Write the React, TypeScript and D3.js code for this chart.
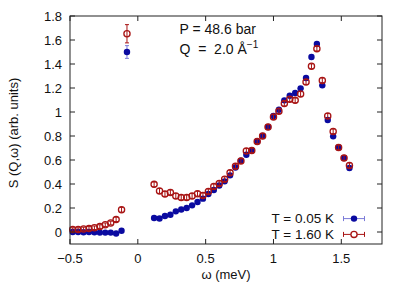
import * as d3 from 'd3';

// energy transfer (meV)
const omega = [
  -0.48, -0.44, -0.40, -0.36, -0.32, -0.28, -0.24, -0.20, -0.16, -0.12, -0.08,
  0.12, 0.16, 0.20, 0.24, 0.28, 0.32, 0.36, 0.40, 0.44, 0.48, 0.52, 0.56, 0.60, 0.64,
  0.68, 0.72, 0.76, 0.80, 0.84, 0.88, 0.92, 0.96, 1.00, 1.04, 1.08, 1.12, 1.16, 1.20,
  1.24, 1.28, 1.32, 1.36, 1.40, 1.44, 1.48, 1.52, 1.56,
];
// T = 0.05 K
const sLow = [
  0, 0, -0.002, 0, -0.003, -0.005, -0.005, -0.005, -0.012, 0.01, 1.50,
  0.117, 0.113, 0.133, 0.144, 0.172, 0.188, 0.200, 0.222, 0.250, 0.278, 0.317, 0.350, 0.388, 0.422,
  0.472, 0.538, 0.594, 0.644, 0.680, 0.755, 0.80, 0.875, 0.967, 1.019, 1.097, 1.136, 1.158, 1.197,
  1.283, 1.458, 1.567, 1.222, 0.933, 0.797, 0.705, 0.617, 0.533,
];
const errLow = [
  0.01, 0.01, 0.01, 0.01, 0.01, 0.01, 0.01, 0.01, 0.01, 0.01, 0.053,
  0.012, 0.012, 0.012, 0.012, 0.012, 0.012, 0.012, 0.012, 0.012, 0.012, 0.012, 0.012, 0.012, 0.015,
  0.015, 0.015, 0.015, 0.015, 0.015, 0.015, 0.015, 0.015, 0.015, 0.015, 0.015, 0.015, 0.015, 0.015,
  0.015, 0.015, 0.015, 0.015, 0.015, 0.015, 0.015, 0.015, 0.015,
];
// T = 1.60 K
const sHigh = [
  0.02, 0.02, 0.025, 0.03, 0.035, 0.045, 0.06, 0.075, 0.105, 0.185, 1.652,
  0.397, 0.342, 0.317, 0.330, 0.300, 0.288, 0.288, 0.300, 0.319, 0.305, 0.338, 0.380, 0.405, 0.44,
  0.494, 0.547, 0.591, 0.675, 0.680, 0.755, 0.80, 0.875, 0.958, 1.007, 1.07, 1.106, 1.097, 1.15,
  1.25, 1.381, 1.528, 1.263, 0.967, 0.838, 0.705, 0.617, 0.555,
];
const errHigh = [
  0.015, 0.015, 0.015, 0.015, 0.015, 0.015, 0.015, 0.015, 0.018, 0.02, 0.076,
  0.02, 0.02, 0.02, 0.02, 0.02, 0.02, 0.02, 0.02, 0.02, 0.02, 0.02, 0.02, 0.02, 0.02,
  0.02, 0.02, 0.02, 0.02, 0.02, 0.02, 0.02, 0.02, 0.02, 0.02, 0.02, 0.02, 0.02, 0.02,
  0.02, 0.02, 0.02, 0.02, 0.02, 0.02, 0.02, 0.02, 0.02,
];

const xTicks = [-0.5, 0, 0.5, 1, 1.5];
const yTicks = [0, 0.2, 0.4, 0.6, 0.8, 1, 1.2, 1.4, 1.6, 1.8];

const blue = '#0a0aa0';
const blueBar = '#7a7ad8';
const red = '#a81414';

export default function App() {
  const width = 415;
  const height = 291;
  const marginLeft = 70;
  const marginRight = 33;
  const marginTop = 16;
  const marginBottom = 47;
  const tick = 5;
  const font = 'Liberation Sans, Arial, Helvetica, sans-serif';

  const x = d3.scaleLinear().domain([-0.5, 1.8]).range([marginLeft, width - marginRight]);
  const y = d3.scaleLinear().domain([-0.1, 1.8]).range([height - marginBottom, marginTop]);

  const low = omega.map((w, i) => ({ w, s: sLow[i], e: errLow[i] }));
  const high = omega.map((w, i) => ({ w, s: sHigh[i], e: errHigh[i] }));

  const x0 = x.range()[0], x1 = x.range()[1];
  const yb = y.range()[0], yt = y.range()[1];

  const errBar = (d, color, key) => (
    <g key={key} stroke={color} strokeWidth={1}>
      <line x1={x(d.w)} x2={x(d.w)} y1={y(d.s - d.e)} y2={y(d.s + d.e)} />
      <line x1={x(d.w) - 2} x2={x(d.w) + 2} y1={y(d.s - d.e)} y2={y(d.s - d.e)} />
      <line x1={x(d.w) - 2} x2={x(d.w) + 2} y1={y(d.s + d.e)} y2={y(d.s + d.e)} />
    </g>
  );

  const legend = [
    { label: 'T = 0.05 K', color: blue, bar: blueBar, filled: true, cy: 218.6 },
    { label: 'T = 1.60 K', color: red, bar: red, filled: false, cy: 234.4 },
  ];

  return (
    <svg width={width} height={height} style={{ position: 'absolute', left: 0, top: 0, background: '#fff' }} fontFamily={font}>
      {/* data: blue first, then red open circles on top */}
      {low.map((d, i) => errBar(d, blueBar, 'eb' + i))}
      {low.map((d, i) => <circle key={'b' + i} cx={x(d.w)} cy={y(d.s)} r={3.2} fill={blue} />)}
      {high.map((d, i) => errBar(d, red, 'er' + i))}
      {high.map((d, i) => <circle key={'r' + i} cx={x(d.w)} cy={y(d.s)} r={3.1} fill="none" stroke={red} strokeWidth={1.3} />)}

      {/* frame + mirrored inward ticks */}
      <rect x={x0} y={yt} width={x1 - x0} height={yb - yt} fill="none" stroke="#222" strokeWidth={1} />
      {xTicks.map(t => (
        <g key={'xt' + t} stroke="#222">
          <line x1={x(t)} x2={x(t)} y1={yb} y2={yb - tick} />
          <line x1={x(t)} x2={x(t)} y1={yt} y2={yt + tick} />
        </g>
      ))}
      {yTicks.map(t => (
        <g key={'yt' + t} stroke="#222">
          <line x1={x0} x2={x0 + tick} y1={y(t)} y2={y(t)} />
          <line x1={x1} x2={x1 - tick} y1={y(t)} y2={y(t)} />
        </g>
      ))}
      {xTicks.map(t => (
        <text key={'xl' + t} x={x(t)} y={262.5} textAnchor="middle" fontSize={13} fill="#111">
          {t < 0 ? '\u2212' + Math.abs(t) : t}
        </text>
      ))}
      {yTicks.map(t => (
        <text key={'yl' + t} x={62} y={y(t) + 4.6} textAnchor="end" fontSize={13} fill="#111">{t}</text>
      ))}

      <text x={(x0 + x1) / 2} y={279} textAnchor="middle" fontSize={13} fill="#111">ω (meV)</text>
      <text transform="translate(18,133) rotate(-90)" textAnchor="middle" fontSize={13} fill="#111">S (Q,ω) (arb. units)</text>

      <text x={179.5} y={34} fontSize={14} fill="#111">P = 48.6 bar</text>
      <text x={179.5} y={53.5} fontSize={14} fill="#111" style={{ whiteSpace: 'pre' }}>
        {'Q  =  2.0 Å'}<tspan fontSize={10} dy={-6}>−1</tspan>
      </text>

      {legend.map(l => (
        <g key={l.label}>
          <text x={334} y={l.cy + 4.7} textAnchor="end" fontSize={13.5} fill="#111">{l.label}</text>
          <g stroke={l.bar} strokeWidth={1}>
            <line x1={343.5} x2={364.5} y1={l.cy} y2={l.cy} />
            <line x1={343.5} x2={343.5} y1={l.cy - 2.5} y2={l.cy + 2.5} />
            <line x1={364.5} x2={364.5} y1={l.cy - 2.5} y2={l.cy + 2.5} />
          </g>
          {l.filled
            ? <circle cx={354} cy={l.cy} r={3.2} fill={l.color} />
            : <circle cx={354} cy={l.cy} r={3.1} fill="#fff" stroke={l.color} strokeWidth={1.3} />}
        </g>
      ))}
    </svg>
  );
}
